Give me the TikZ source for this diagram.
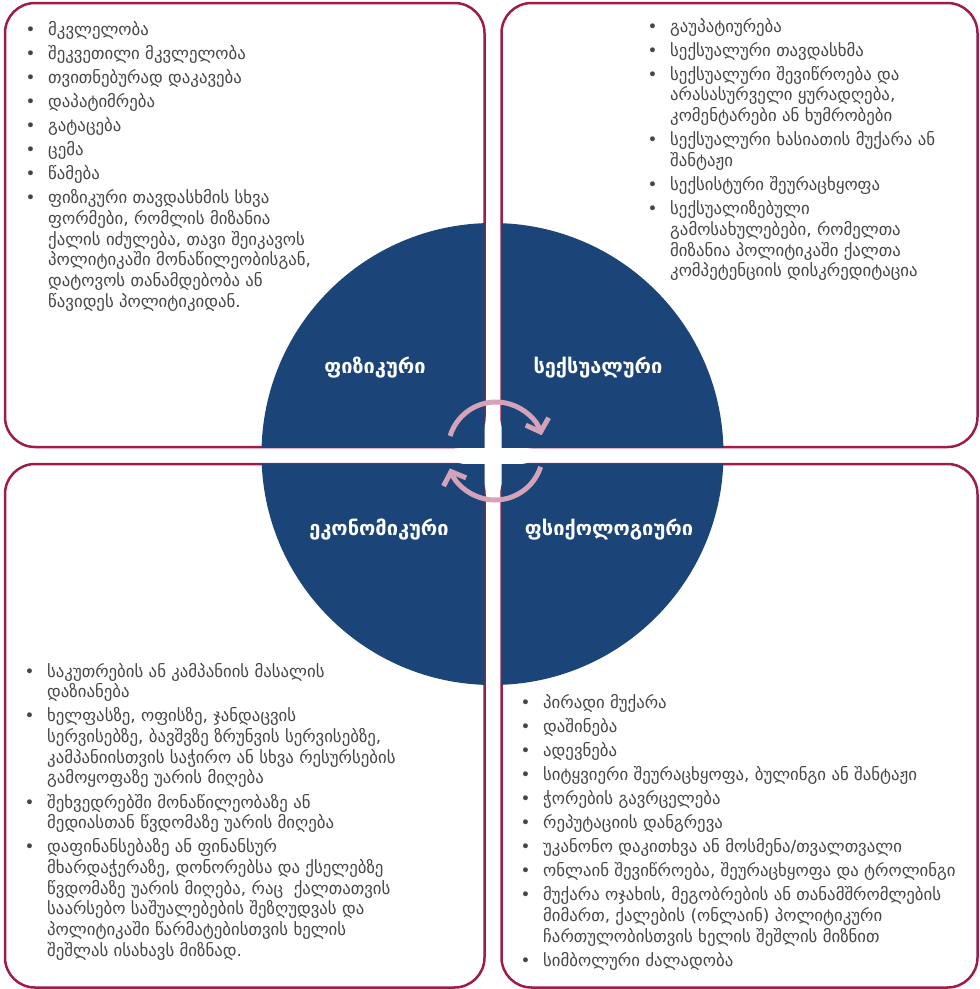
\documentclass[tikz,border=0pt]{standalone}
\usepackage{fontspec}
\setmainfont{DejaVu Sans}
\usetikzlibrary{arrows.meta}
\definecolor{qblue}{RGB}{27,69,120}
\definecolor{crim}{RGB}{158,27,76}
\definecolor{pinkarr}{RGB}{212,162,185}
\definecolor{txtgray}{RGB}{70,70,70}
\newcommand\bodyfont{\fontsize{16.8}{20.7}\selectfont}
\newcommand\ig{\\[3.4pt]}
\newcommand\bl{\textbullet}
\tikzset{
  panel/.style={draw=crim, line width=2.5pt, rounded corners=30pt, fill=white},
  listtext/.style={inner sep=0pt, anchor=base west, text=txtgray, font=\bodyfont},
  head/.style={inner sep=0pt, text=white, font=\fontsize{20}{24}\selectfont\bfseries},
  cyc/.style={draw=pinkarr, line width=5pt, -{Straight Barb[length=11pt,width=24pt]}}
}
\begin{document}
\begin{tikzpicture}[x=1pt,y=-1pt]
\useasboundingbox (0,0) rectangle (980,989);
% panels
\draw[panel] (5,3) rectangle (484.5,447);
\draw[panel] (501.5,3) rectangle (977.5,447);
\draw[panel] (5,464) rectangle (484.5,987.5);
\draw[panel] (501.5,464) rectangle (977.5,987.5);
% circle quadrants
\coordinate (c) at (492.5,454);
\begin{scope}\clip (0,0) rectangle (484.5,447);\fill[qblue] (c) circle[radius=231];\end{scope}
\begin{scope}\clip (501.5,0) rectangle (980,447);\fill[qblue] (c) circle[radius=231];\end{scope}
\begin{scope}\clip (0,464) rectangle (484.5,989);\fill[qblue] (c) circle[radius=231];\end{scope}
\begin{scope}\clip (501.5,464) rectangle (980,989);\fill[qblue] (c) circle[radius=231];\end{scope}
% cycle arrows
\draw[cyc] (496,450) ++(-163:48) arc[start angle=-163,end angle=-18,radius=48];
\draw[cyc] (495,452) ++(18:48) arc[start angle=18,end angle=160,radius=48];
% headings
\node[head] (h1) at (375,368) {ფიზიკური};
\node[head] (h2) at (598,368) {სექსუალური};
\node[head] (h3) at (379,530) {ეკონომიკური};
\node[head] (h4) at (609,530) {ფსიქოლოგიური};
% lists
\node[listtext] (l1) at (25.5,35) {\begin{tabular}[t]{@{}p{22.5pt}@{}l@{}}
\bl & მკვლელობა\ig
\bl & შეკვეთილი მკვლელობა\ig
\bl & თვითნებურად დაკავება\ig
\bl & დაპატიმრება\ig
\bl & გატაცება\ig
\bl & ცემა\ig
\bl & წამება\ig
\bl & ფიზიკური თავდასხმის სხვა\\
 & ფორმები, რომლის მიზანია\\
 & ქალის იძულება, თავი შეიკავოს\\
 & პოლიტიკაში მონაწილეობისგან,\\
 & დატოვოს თანამდებობა ან\\
 & წავიდეს პოლიტიკიდან.
\end{tabular}};
\node[listtext] (l2) at (647.5,32) {\begin{tabular}[t]{@{}p{22.5pt}@{}l@{}}
\bl & გაუპატიურება\ig
\bl & სექსუალური თავდასხმა\ig
\bl & სექსუალური შევიწროება და\\
 & არასასურველი ყურადღება,\\
 & კომენტარები ან ხუმრობები\ig
\bl & სექსუალური ხასიათის მუქარა ან\\
 & შანტაჟი\ig
\bl & სექსისტური შეურაცხყოფა\ig
\bl & სექსუალიზებული\\
 & გამოსახულებები, რომელთა\\
 & მიზანია პოლიტიკაში ქალთა\\
 & კომპეტენციის დისკრედიტაცია
\end{tabular}};
\node[listtext] (l3) at (24.5,677) {\begin{tabular}[t]{@{}p{22.5pt}@{}l@{}}
\bl & საკუთრების ან კამპანიის მასალის\\
 & დაზიანება\ig
\bl & ხელფასზე, ოფისზე, ჯანდაცვის\\
 & სერვისებზე, ბავშვზე ზრუნვის სერვისებზე,\\
 & კამპანიისთვის საჭირო ან სხვა რესურსების\\
 & გამოყოფაზე უარის მიღება\ig
\bl & შეხვედრებში მონაწილეობაზე ან\\
 & მედიასთან წვდომაზე უარის მიღება\ig
\bl & დაფინანსებაზე ან ფინანსურ\\
 & მხარდაჭერაზე, დონორებსა და ქსელებზე\\
 & წვდომაზე უარის მიღება, რაც \ ქალთათვის\\
 & საარსებო საშუალებების შეზღუდვას და\\
 & პოლიტიკაში წარმატებისთვის ხელის\\
 & შეშლას ისახავს მიზნად.
\end{tabular}};
\node[listtext] (l4) at (520.5,708) {\begin{tabular}[t]{@{}p{22.5pt}@{}l@{}}
\bl & პირადი მუქარა\ig
\bl & დაშინება\ig
\bl & ადევნება\ig
\bl & სიტყვიერი შეურაცხყოფა, ბულინგი ან შანტაჟი\ig
\bl & ჭორების გავრცელება\ig
\bl & რეპუტაციის დანგრევა\ig
\bl & უკანონო დაკითხვა ან მოსმენა/თვალთვალი\ig
\bl & ონლაინ შევიწროება, შეურაცხყოფა და ტროლინგი\ig
\bl & მუქარა ოჯახის, მეგობრების ან თანამშრომლების\\
 & მიმართ, ქალების (ონლაინ) პოლიტიკური\\
 & ჩართულობისთვის ხელის შეშლის მიზნით\ig
\bl & სიმბოლური ძალადობა
\end{tabular}};
\end{tikzpicture}
\end{document}
